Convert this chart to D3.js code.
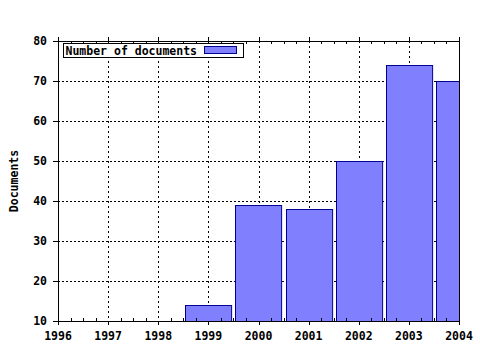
<!DOCTYPE html>
<html lang="en">
  <head>
    <meta charset="UTF-8" />
    <title>Documents</title>
    <style>
      body { margin: 0; background: #fff; }
      text { font-family: "DejaVu Sans Mono", monospace; font-weight: bold; font-size: 11.5px; }
    </style>
  </head>
  <body>
    <svg id="svg" width="480" height="350"></svg>
    <script src="https://d3js.org/d3.v7.min.js"></script>
    <script>
      const years = [1999, 2000, 2001, 2002, 2003, 2004];
      const documents = [14, 39, 38, 50, 74, 70];
      const yearTicks = [1996, 1997, 1998, 1999, 2000, 2001, 2002, 2003, 2004];
      const valueTicks = [10, 20, 30, 40, 50, 60, 70, 80];

      const margin = { top: 41, right: 21, bottom: 29, left: 58 };
      const svg = d3.select("#svg");
      const width = 480 - margin.left - margin.right;
      const height = 350 - margin.top - margin.bottom;

      const x = d3.scaleLinear().domain([1996, 2004]).range([0, width]);
      const y = d3.scaleLinear().domain([10, 80]).range([height, 0]);

      const chart = svg.append("g")
        .attr("transform", `translate(${margin.left},${margin.top})`);

      svg.append("defs").append("clipPath").attr("id", "plot")
        .append("rect").attr("width", width).attr("height", height);

      // grid
      const grid = chart.append("g")
        .attr("stroke", "#000").attr("shape-rendering", "crispEdges");
      grid.selectAll(".v").data(yearTicks.slice(1, -1)).join("line")
        .attr("stroke-dasharray", "2,3")
        .attr("x1", d => x(d) + 0.5).attr("x2", d => x(d) + 0.5)
        .attr("y1", 0).attr("y2", height);
      grid.selectAll(".h").data(valueTicks.slice(1, -1)).join("line")
        .attr("stroke-dasharray", "2,2")
        .attr("x1", 0).attr("x2", width)
        .attr("y1", d => y(d) + 0.5).attr("y2", d => y(d) + 0.5);

      // bars
      const barW = x(1996.92) - x(1996);
      chart.append("g").attr("clip-path", "url(#plot)")
        .selectAll("rect").data(years).join("rect")
        .attr("x", d => Math.round(x(d) - barW / 2) + 0.5)
        .attr("y", (d, i) => Math.round(y(documents[i])) + 0.5)
        .attr("width", barW)
        .attr("height", (d, i) => height - Math.round(y(documents[i])))
        .attr("fill", "#8080ff")
        .attr("stroke", "#000090");

      // frame
      chart.append("rect")
        .attr("x", 0.5).attr("y", 0.5).attr("width", width).attr("height", height)
        .attr("fill", "none").attr("stroke", "#000");

      // x axis with quarter minor ticks
      const minor = d3.range(1996, 2004.01, 0.25).filter(d => d % 1 !== 0);
      const ticks = chart.append("g").attr("stroke", "#000").attr("shape-rendering", "crispEdges");
      ticks.selectAll(".mb").data(minor).join("line")
        .attr("x1", d => Math.round(x(d)) + 0.5).attr("x2", d => Math.round(x(d)) + 0.5)
        .attr("y1", height - 3).attr("y2", height);
      ticks.selectAll(".mt").data(minor).join("line")
        .attr("x1", d => Math.round(x(d)) + 0.5).attr("x2", d => Math.round(x(d)) + 0.5)
        .attr("y1", 0).attr("y2", 3);
      ticks.selectAll(".Mb").data(yearTicks).join("line")
        .attr("x1", d => x(d) + 0.5).attr("x2", d => x(d) + 0.5)
        .attr("y1", height).attr("y2", height + 4);
      ticks.selectAll(".Mt").data(yearTicks).join("line")
        .attr("x1", d => x(d) + 0.5).attr("x2", d => x(d) + 0.5)
        .attr("y1", -4).attr("y2", 0);
      ticks.selectAll(".yl").data(valueTicks).join("line")
        .attr("x1", -5).attr("x2", 0)
        .attr("y1", d => y(d) + 0.5).attr("y2", d => y(d) + 0.5);

      chart.append("g").selectAll("text").data(yearTicks).join("text")
        .attr("x", d => x(d)).attr("y", height + 19)
        .attr("text-anchor", "middle")
        .text(d => d);

      chart.append("g").selectAll("text").data(valueTicks).join("text")
        .attr("x", -11).attr("y", d => y(d) + 4)
        .attr("text-anchor", "end")
        .text(d => d);

      svg.append("text")
        .attr("transform", `translate(18,${margin.top + height / 2}) rotate(-90)`)
        .attr("text-anchor", "middle")
        .text("Documents");

      // legend
      const legend = chart.append("g").attr("transform", "translate(5.5,2.5)");
      legend.append("rect").attr("width", 180).attr("height", 14)
        .attr("fill", "#fff").attr("stroke", "#000");
      legend.append("text").attr("x", 2).attr("y", 11).text("Number of documents");
      legend.append("rect").attr("x", 141).attr("y", 3).attr("width", 32).attr("height", 7)
        .attr("fill", "#8080ff").attr("stroke", "#000090");
    </script>
  </body>
</html>
